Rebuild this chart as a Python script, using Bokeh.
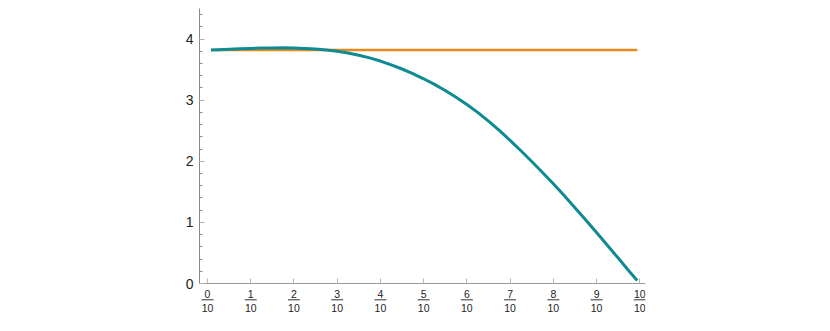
from bokeh.plotting import figure
from bokeh.models import Range1d, FixedTicker
from bokeh.embed import file_html
from bokeh.resources import INLINE

# teal curve
curve_x = [0.008, 0.025, 0.05, 0.075, 0.1, 0.125, 0.15, 0.175, 0.2, 0.225, 0.25,
           0.275, 0.3, 0.325, 0.35, 0.375, 0.4, 0.425, 0.45, 0.475, 0.5, 0.525,
           0.55, 0.575, 0.6, 0.625, 0.65, 0.675, 0.7, 0.725, 0.75, 0.775, 0.8,
           0.825, 0.85, 0.875, 0.9, 0.925, 0.95, 0.975, 0.994]
curve_y = [3.822, 3.827, 3.834, 3.841, 3.847, 3.852, 3.855, 3.856, 3.853, 3.846, 3.836,
           3.820, 3.800, 3.772, 3.736, 3.692, 3.640, 3.578, 3.510, 3.434, 3.350, 3.258,
           3.158, 3.049, 2.930, 2.800, 2.658, 2.505, 2.342, 2.172, 1.996, 1.816, 1.632,
           1.439, 1.241, 1.039, 0.834, 0.626, 0.416, 0.204, 0.05]

# orange constant line
const_x = [0.008, 0.994]
const_y = [3.822, 3.822]

# ticks
x_numerators = [0, 1, 2, 3, 4, 5, 6, 7, 8, 9, 10]
x_denominator = 10
y_major = [0, 1, 2, 3, 4]
y_minor = [0.2, 0.4, 0.6, 0.8, 1.2, 1.4, 1.6, 1.8, 2.2, 2.4, 2.6, 2.8,
           3.2, 3.4, 3.6, 3.8, 4.2, 4.4]

x_ticks = [n / x_denominator for n in x_numerators]
x_labels = {t: f"{n}\n{x_denominator}" for t, n in zip(x_ticks, x_numerators)}

Y_TOP = 4.5
PX_PER_UNIT = 275.0 / Y_TOP
y_bottom = -48.0 / PX_PER_UNIT

p = figure(width=830, height=331,
           x_range=Range1d(-0.0185, 1.0132), y_range=Range1d(y_bottom, Y_TOP),
           output_backend="svg", toolbar_location=None,
           min_border_left=199, min_border_right=185,
           min_border_top=8, min_border_bottom=0)
p.outline_line_color = None
p.xgrid.visible = False
p.ygrid.visible = False
p.background_fill_color = "white"
p.border_fill_color = "white"

p.line(const_x, const_y, line_color="#E8891A", line_width=2.5)
p.line(curve_x, curve_y, line_color="#0E8A92", line_width=3)

# x axis placed at y = 0
xa = p.xaxis[0]
xa.fixed_location = 0
xa.ticker = FixedTicker(ticks=x_ticks, minor_ticks=[])
xa.major_label_overrides = x_labels
xa.axis_line_color = "#9a9a9a"
xa.major_tick_line_color = "#b5b5b5"
xa.major_tick_in = 5
xa.major_tick_out = 0
xa.minor_tick_line_color = None
xa.major_label_text_font = "Liberation Sans"
xa.major_label_text_font_size = "10.5px"
xa.major_label_text_color = "#222222"
xa.major_label_text_line_height = 1.18
xa.major_label_standoff = 4

# y axis
ya = p.yaxis[0]
ya.bounds = (0, Y_TOP)
ya.ticker = FixedTicker(ticks=y_major, minor_ticks=y_minor)
ya.axis_line_color = "#8a8a8a"
ya.major_tick_line_color = "#b5b5b5"
ya.major_tick_in = 5
ya.major_tick_out = 0
ya.minor_tick_line_color = "#8a8a8a"
ya.minor_tick_in = 3
ya.minor_tick_out = 0
ya.major_label_text_font = "Liberation Sans"
ya.major_label_text_font_size = "14px"
ya.major_label_text_color = "#222222"
ya.major_label_standoff = 6

# fraction bars under numerators
half_w = 6.0 / 432.6
bar_y = -16.3 / PX_PER_UNIT
p.segment(x0=[t - half_w for t in x_ticks], y0=[bar_y] * len(x_ticks),
          x1=[t + half_w for t in x_ticks], y1=[bar_y] * len(x_ticks),
          line_color="#333333", line_width=1)

open("out.html", "w").write(file_html(p, INLINE))
